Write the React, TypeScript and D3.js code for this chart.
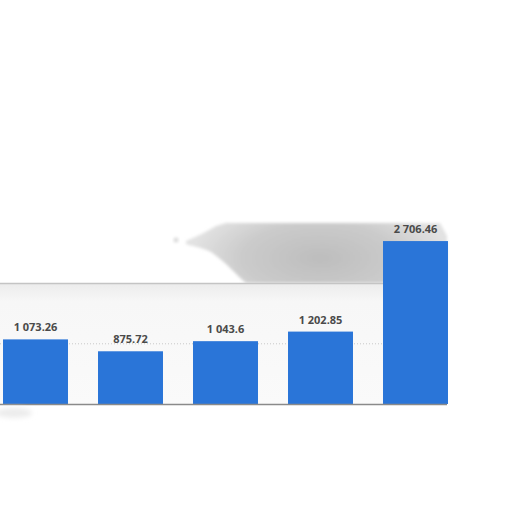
import React from "react";
import * as d3 from "d3";

const categories = ["A", "B", "C", "D", "E"];
const values = [1073.26, 875.72, 1043.6, 1202.85, 2706.46];
const labels = ["1 073.26", "875.72", "1 043.6", "1 202.85", "2 706.46"];
const gridTicks = [1000];

export default function App() {
  const W = 512, H = 512;
  const baseY = 404;
  const x = d3.scaleBand<string>().domain(categories).range([-12, 463]).paddingInner(0.316).paddingOuter(0.158);
  const y = d3.scaleLinear().domain([0, 3000]).range([baseY, baseY - 180.6]);
  const panelTop = y(2000);
  return (
    <svg width={W} height={H} style={{ position: "absolute", left: 0, top: 0 }}>
      <defs>
        <filter id="blur" x="-20%" y="-50%" width="140%" height="200%">
          <feGaussianBlur stdDeviation="1.5" />
        </filter>
        <filter id="blur2" x="-50%" y="-50%" width="200%" height="200%">
          <feGaussianBlur stdDeviation="2.5" />
        </filter>
        <radialGradient id="blobG" gradientUnits="userSpaceOnUse" cx={320} cy={258} r={130} gradientTransform="translate(320 258) scale(1 0.45) translate(-320 -258)">
          <stop offset="0" stopColor="#bdbdbd" />
          <stop offset="0.6" stopColor="#cbcbcb" />
          <stop offset="1" stopColor="#e2e2e2" />
        </radialGradient>
        <linearGradient id="panelG" x1="0" y1="0" x2="0" y2="1">
          <stop offset="0" stopColor="#ececec" />
          <stop offset="0.15" stopColor="#f7f7f7" />
          <stop offset="1" stopColor="#fafafa" />
        </linearGradient>
      </defs>
      <rect width={W} height={H} fill="#ffffff" />
      {/* gray blurred artifact above panel */}
      <path
        d="M186,241 C196,237 206,232 216,226 L226,223 L440,223 L447,236 L447,283 L246,283 C236,275 226,262 211,252 C201,247 191,246 186,244 Z"
        fill="url(#blobG)"
        filter="url(#blur)"
      />
      <circle cx={176} cy={240} r={2.5} fill="#dadada" filter="url(#blur)" />
      {/* panel */}
      <rect x={0} y={panelTop} width={447} height={baseY - panelTop} fill="url(#panelG)" />
      <line x1={0} x2={447} y1={panelTop} y2={panelTop} stroke="#c4c4c4" strokeWidth={1.5} />
      {gridTicks.map((t) => (
        <line key={t} x1={0} x2={447} y1={y(t)} y2={y(t)} stroke="#c8c8c8" strokeWidth={1} strokeDasharray="1,2" />
      ))}
      {categories.map((c, i) => (
        <rect
          key={c}
          x={x(c)}
          y={y(values[i])}
          width={x.bandwidth()}
          height={baseY - y(values[i])}
          fill="#2a75d8"
        />
      ))}
      <line x1={0} x2={447} y1={baseY + 0.5} y2={baseY + 0.5} stroke="#8a8a8a" strokeWidth={1.5} />
      <ellipse cx={14} cy={413} rx={18} ry={5} fill="#ececec" filter="url(#blur2)" />
      {categories.map((c, i) => (
        <text
          key={c}
          x={(x(c) as number) + x.bandwidth() / 2}
          y={y(values[i]) - 8}
          textAnchor="middle"
          fontFamily="'Open Sans', Arial, sans-serif"
          fontWeight="bold"
          fontSize={11}
          fill="#4a4a4a"
        >
          {labels[i]}
        </text>
      ))}
    </svg>
  );
}
